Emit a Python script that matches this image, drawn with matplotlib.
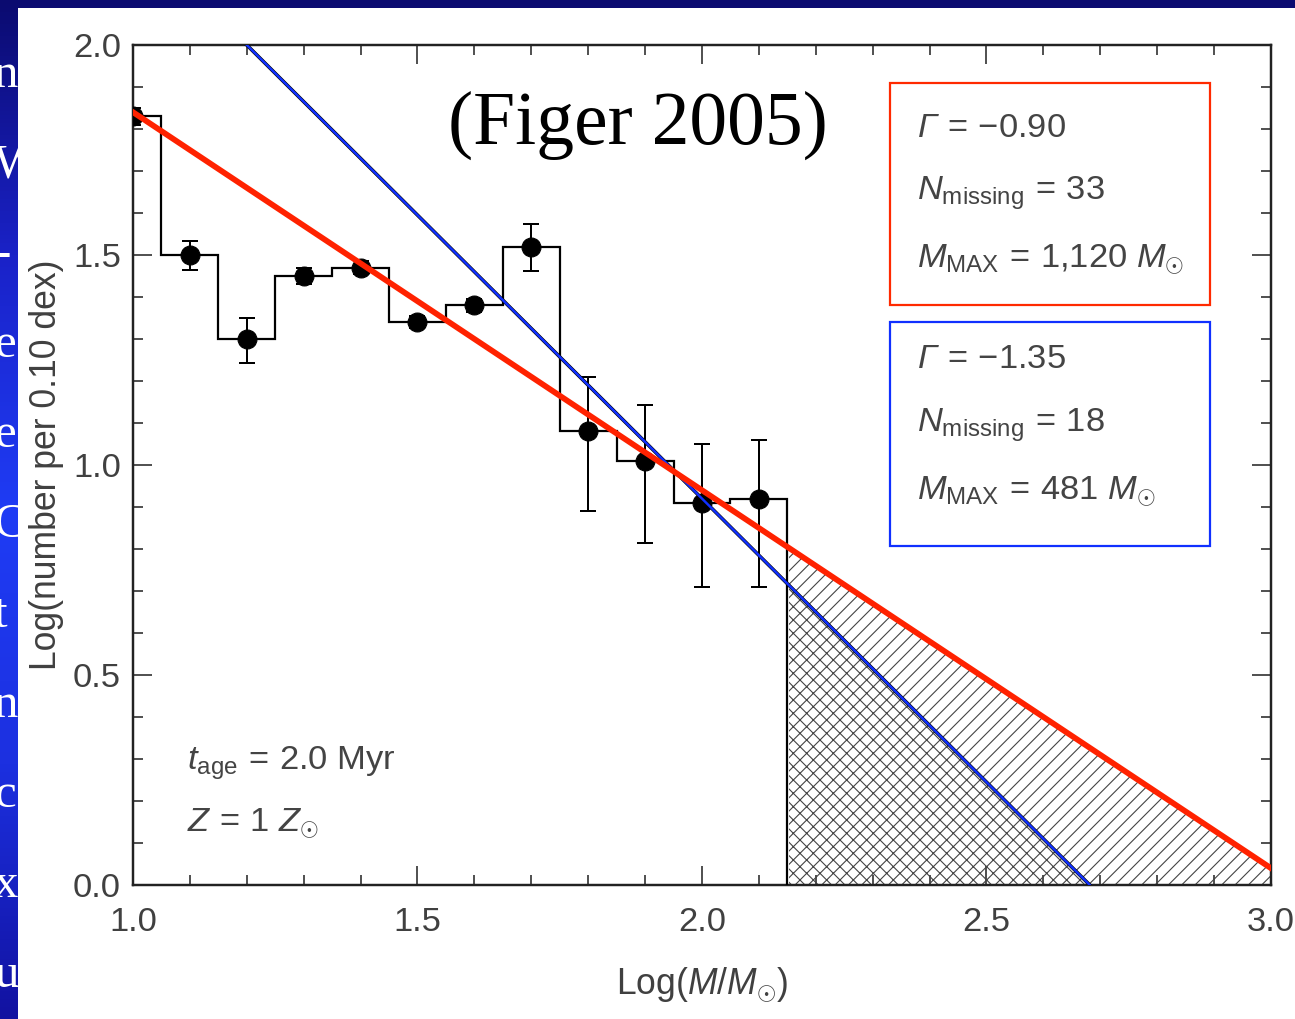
import numpy as np
import matplotlib
matplotlib.use("Agg")
import matplotlib.pyplot as plt
from matplotlib.colors import LinearSegmentedColormap
from matplotlib.patches import Rectangle

# mass function of the cluster: log bin centres, log counts and asymmetric errors
log_mass = [1.0, 1.1, 1.2, 1.3, 1.4, 1.5, 1.6, 1.7, 1.8, 1.9, 2.0, 2.1]
log_n = [1.83, 1.50, 1.30, 1.45, 1.47, 1.34, 1.38, 1.52, 1.08, 1.01, 0.91, 0.92]
err_lo = [0.02, 0.036, 0.057, 0.02, 0.015, 0.015, 0.015, 0.059, 0.19, 0.195, 0.20, 0.21]
err_hi = [0.02, 0.033, 0.050, 0.02, 0.015, 0.015, 0.015, 0.053, 0.13, 0.133, 0.14, 0.14]
bin_edges = [0.95, 1.05, 1.15, 1.25, 1.35, 1.45, 1.55, 1.65, 1.75, 1.85, 1.95, 2.05, 2.15]

# power-law fits (slope Gamma, anchor point)
gamma_red, red_anchor = -0.90, (1.0, 1.84)
gamma_blue, blue_anchor = -1.35, (1.2, 2.0)
m_cut = 2.15

red_box = [r"$\mathsf{\Gamma}\,=\,{-}0.90$", r"$N_{\mathrm{missing}}\,=\,33$",
           r"$M_{\mathrm{MAX}}\,=\,1{,}120\ M_{\odot}$"]
blue_box = [r"$\mathsf{\Gamma}\,=\,{-}1.35$", r"$N_{\mathrm{missing}}\,=\,18$",
            r"$M_{\mathrm{MAX}}\,=\,481\ M_{\odot}$"]
cluster_info = [r"$t_{\mathrm{age}}\,=\,2.0\ \mathrm{Myr}$", r"$Z\,=\,1\ Z_{\odot}$"]

plt.rcParams.update({
    "font.family": ["Liberation Sans", "DejaVu Sans"],
    "mathtext.fontset": "custom",
    "mathtext.rm": "Liberation Sans",
    "mathtext.it": "Liberation Sans:italic",
    "mathtext.sf": "Liberation Sans:italic",
    "hatch.linewidth": 1.0,
})

W, H, dpi = 1295, 1019, 80
fig = plt.figure(figsize=(W / dpi, H / dpi), dpi=dpi)

# slide background peeking out at the edges
bg = fig.add_axes([0, 0, 1, 1], zorder=-10)
bg.set_xlim(0, W)
bg.set_ylim(H, 0)
bg.axis("off")
slide = LinearSegmentedColormap.from_list(
    "slide", ["#0b0b70", "#1a22c8", "#1f3cf5", "#1c30e0", "#1212a0"])
grad = np.linspace(0, 1, 256).reshape(-1, 1)
bg.imshow(grad, cmap=slide, extent=[0, W, H, 0], aspect="auto")
for i, ch in enumerate(["n", "W", "-", "e", "e", "C", "t", "n", "c", "x", "u"]):
    bg.text(-6, 75 + 90 * i, ch, color="white", fontsize=44,
            family="Liberation Serif", ha="left", va="center")
bg.add_patch(Rectangle((18, 8), W, H, facecolor="white", edgecolor="none", zorder=5))

ax = fig.add_axes([133 / W, 1 - 885 / H, (1271 - 133) / W, (885 - 45) / H])
ax.set_facecolor("none")

# histogram outline
ax.stairs(log_n, bin_edges, baseline=0, color="black", linewidth=2.0, zorder=3)

# fits and the missing-star regions beyond the cut
x_fit = np.linspace(1.0, 3.0, 400)
red_fit = red_anchor[1] + gamma_red * (x_fit - red_anchor[0])
blue_fit = blue_anchor[1] + gamma_blue * (x_fit - blue_anchor[0])

beyond = x_fit >= m_cut
xb = x_fit[beyond]
blue_pos = np.clip(blue_fit[beyond], 0, None)
ax.fill_between(xb, blue_pos, red_fit[beyond], facecolor="none",
                edgecolor="#444444", hatch="//", linewidth=0, zorder=2)
ax.fill_between(xb, 0, blue_pos, facecolor="none",
                edgecolor="#444444", hatch="xx", linewidth=0, zorder=2)

ax.errorbar(log_mass, log_n, yerr=[err_lo, err_hi], fmt="o", color="black",
            ms=17, capsize=7, elinewidth=1.8, capthick=1.8, zorder=4)

ax.plot(x_fit, blue_fit, color="black", linewidth=3.2, zorder=5)
ax.plot(x_fit, blue_fit, color="#1030ff", linewidth=2.2, zorder=6)
ax.plot(x_fit, red_fit, color="#ff2200", linewidth=5.2, zorder=7)

ax.set_xlim(1.0, 3.0)
ax.set_ylim(0, 2.0)
ax.set_xticks(np.arange(1.0, 3.01, 0.5))
ax.set_xticks(np.arange(1.0, 3.01, 0.1), minor=True)
ax.set_yticks(np.arange(0, 2.01, 0.5))
ax.set_yticks(np.arange(0, 2.01, 0.1), minor=True)
ax.xaxis.set_major_formatter("{x:.1f}")
ax.yaxis.set_major_formatter("{x:.1f}")
ax.tick_params(which="both", direction="in", top=True, right=True,
               colors="#222222", labelcolor="#404040", labelsize=31)
ax.tick_params(which="major", length=17, width=1.4)
ax.tick_params(which="minor", length=9, width=1.4)
ax.tick_params(axis="x", pad=20)
ax.tick_params(axis="y", pad=11)
for sp in ax.spines.values():
    sp.set_linewidth(2.2)
    sp.set_color("#222222")

ax.set_xlabel(r"Log($M/M_{\odot}$)", fontsize=32, color="#404040", labelpad=24)
ax.set_ylabel("Log(number per 0.10 dex)", fontsize=32, color="#404040", labelpad=8)

ax.text(1.8875, 0.883, "(Figer 2005)", transform=ax.get_xaxis_transform(),
        ha="center", va="baseline", fontsize=68, family="Liberation Serif",
        color="black", zorder=8)

# parameter boxes
ax.add_patch(Rectangle((0.665, 0.690), 0.281, 0.265, transform=ax.transAxes,
                       facecolor="none", edgecolor="#ff2a00", linewidth=2, zorder=8))
ax.add_patch(Rectangle((0.665, 0.4036), 0.281, 0.2664, transform=ax.transAxes,
                       facecolor="none", edgecolor="#1030ff", linewidth=2, zorder=8))
for txt, yb in zip(red_box, [0.8905, 0.8155, 0.7345]):
    ax.text(0.689, yb, txt, transform=ax.transAxes, ha="left", va="baseline",
            fontsize=31, color="#444444", zorder=8)
for txt, yb in zip(blue_box, [0.6155, 0.5393, 0.4583]):
    ax.text(0.689, yb, txt, transform=ax.transAxes, ha="left", va="baseline",
            fontsize=31, color="#444444", zorder=8)
for txt, yb in zip(cluster_info, [0.1369, 0.0631]):
    ax.text(0.0475, yb, txt, transform=ax.transAxes, ha="left", va="baseline",
            fontsize=31, color="#444444", zorder=8)

fig.savefig("out.png", dpi=dpi)
